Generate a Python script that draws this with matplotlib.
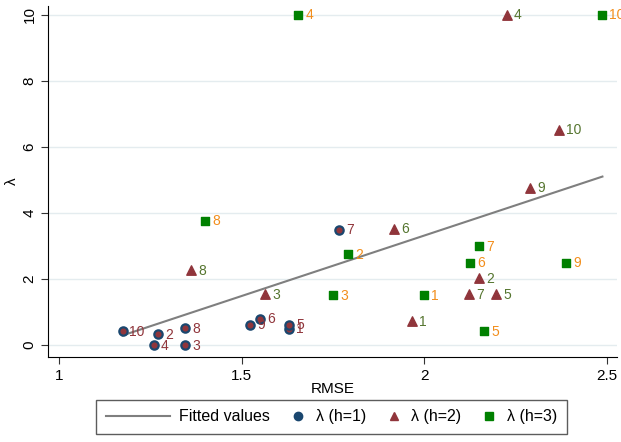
import numpy as np
import matplotlib.pyplot as plt
from matplotlib.lines import Line2D
from matplotlib.legend_handler import HandlerLine2D

plt.rcParams['font.family'] = ['Liberation Sans', 'DejaVu Sans']

# h=1
labels1 = [1, 2, 3, 4, 5, 6, 7, 8, 9, 10]
rmse1 = [1.63, 1.271, 1.345, 1.258, 1.63, 1.551, 1.767, 1.345, 1.523, 1.173]
lam1 = [0.5, 0.33, 0.0, 0.0, 0.62, 0.8, 3.5, 0.52, 0.62, 0.42]

# h=2
labels2 = [1, 2, 3, 4, 5, 6, 7, 8, 9, 10]
rmse2 = [1.967, 2.15, 1.564, 2.227, 2.197, 1.918, 2.123, 1.362, 2.29, 2.37]
lam2 = [0.72, 2.02, 1.54, 10.0, 1.54, 3.53, 1.54, 2.27, 4.77, 6.52]

# h=3
labels3 = [1, 2, 3, 4, 5, 6, 7, 8, 9, 10]
rmse3 = [2.0, 1.792, 1.75, 1.655, 2.164, 2.126, 2.15, 1.40, 2.389, 2.488]
lam3 = [1.52, 2.75, 1.52, 10.0, 0.42, 2.5, 3.0, 3.77, 2.5, 10.0]

NAVY = '#1a476f'
MAROON = '#90353b'
GREEN = '#008000'
LBL1 = '#90353b'
LBL2 = '#55752f'
LBL3 = '#f28e1c'


class NarrowHandler(HandlerLine2D):
    # marker-only legend keys take less room than the line key
    def legend_artist(self, legend, orig_handle, fontsize, handlebox):
        handlebox.width = 12
        return super().legend_artist(legend, orig_handle, fontsize, handlebox)


fig = plt.figure(figsize=(6.21, 4.42), dpi=100)
ax = fig.add_axes([0.078, 0.192, 0.915, 0.795])

# fitted line over all points
allx = np.array(rmse1 + rmse2 + rmse3)
ally = np.array(lam1 + lam2 + lam3)
b, a = np.polyfit(allx, ally, 1)
xs = np.array([allx.min(), allx.max()])
ax.plot(xs, a + b * xs, color='#7f7f7f', lw=1.5, zorder=2)

ax.scatter(rmse1, lam1, s=36, marker='o', facecolor=MAROON, edgecolor=NAVY,
           linewidth=1.6, zorder=3)
ax.scatter(rmse2, lam2, s=46, marker='^', color=MAROON, zorder=3)
ax.scatter(rmse3, lam3, s=40, marker='s', color=GREEN, zorder=3)

for xs_, ys_, ls_, c in [(rmse1, lam1, labels1, LBL1),
                         (rmse2, lam2, labels2, LBL2),
                         (rmse3, lam3, labels3, LBL3)]:
    for x, y, l in zip(xs_, ys_, ls_):
        ax.annotate(str(l), (x, y), xytext=(5, -0.5), textcoords='offset points',
                    va='center', ha='left', fontsize=10, color=c, zorder=4)

ax.set_xlim(0.97, 2.527)
ax.set_ylim(-0.36, 10.27)
ax.set_xticks([1, 1.5, 2, 2.5])
ax.set_xticklabels(['1', '1.5', '2', '2.5'])
ax.set_yticks([0, 2, 4, 6, 8, 10])
ax.yaxis.grid(True, color='#e4ecef', lw=1)
ax.set_axisbelow(True)
for s in ['top', 'right']:
    ax.spines[s].set_visible(False)
ax.tick_params(labelsize=11, direction='out', length=5, color='#333333')
plt.setp(ax.get_yticklabels(), rotation=90, va='center')
ax.set_xlabel('RMSE', fontsize=11, labelpad=-1)
ax.set_ylabel('λ', fontsize=11, labelpad=3)

handles = [
    Line2D([], [], color='#7f7f7f', lw=1.5),
    Line2D([], [], marker='o', ls='', color=NAVY, markersize=6),
    Line2D([], [], marker='^', ls='', color=MAROON, markersize=6),
    Line2D([], [], marker='s', ls='', color=GREEN, markersize=5.5),
]
names = ['Fitted values', 'λ (h=1)', 'λ (h=2)', 'λ (h=3)']
hmap = {h: NarrowHandler() for h in handles[1:]}
leg = fig.legend(handles, names, handler_map=hmap, loc='lower center',
                 bbox_to_anchor=(0.534, 0.0), ncol=4, fontsize=11.5,
                 frameon=True, fancybox=False, edgecolor='#333333',
                 handlelength=4.0, columnspacing=1.2, handletextpad=0.6,
                 borderpad=0.6)
leg.get_frame().set_linewidth(1.0)

fig.savefig('out.png', dpi=100)
